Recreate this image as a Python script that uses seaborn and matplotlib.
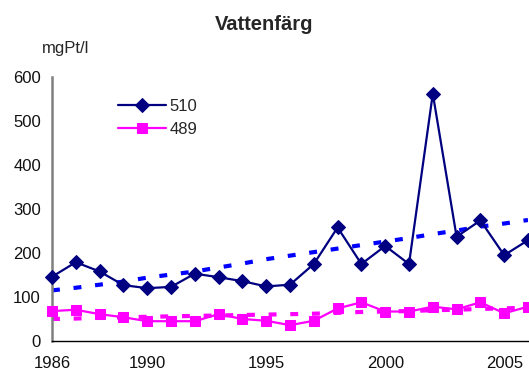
import matplotlib
matplotlib.use("Agg")
import matplotlib.pyplot as plt
import seaborn as sns
import pandas as pd

years = list(range(1986, 2007))
s510 = [146, 179, 158, 127, 120, 123, 153, 145, 136, 124, 128, 175, 258, 175, 216, 175, 562, 237, 274, 195, 229]
s489 = [68, 71, 61, 54, 45, 45, 45, 61, 50, 46, 36, 46, 74, 88, 67, 67, 78, 72, 88, 63, 78]
trend510 = [115, 121, 128, 135, 144, 151, 158, 167, 176, 186, 194, 202, 210, 218, 226, 234, 243, 251, 260, 267, 275]
trend489 = [50, 51, 53, 54, 55, 56, 57, 58, 59, 60, 61, 62, 64, 66, 67, 68, 70, 71, 73, 74, 76]
xtick_labels = ["1986", "1990", "1995", "2000", "2005"]
ytick_vals = [0, 100, 200, 300, 400, 500, 600]

df = pd.DataFrame({"year": years, "s510": s510, "s489": s489,
                   "t510": trend510, "t489": trend489})

sns.set_style("white")
plt.rcParams["font.family"] = ["Liberation Sans", "DejaVu Sans"]

W, H = 529, 371
fig = plt.figure(figsize=(W / 100, H / 100), dpi=100)
ax = fig.add_axes([52 / W, 30 / H, (528 - 52) / W, (341 - 77) / H])

dash = (0, (1.9, 3.3))
sns.lineplot(data=df, x="year", y="t510", ax=ax, color="#0000FF", lw=3,
             linestyle=dash, legend=False, zorder=2)
sns.lineplot(data=df, x="year", y="t489", ax=ax, color="#FF00FF", lw=3,
             linestyle=dash, legend=False, zorder=2)
sns.lineplot(data=df, x="year", y="s510", ax=ax, color="#000080", lw=1.6,
             marker="D", markersize=6.9, markeredgecolor="#000080", label="510", clip_on=False, zorder=3)
sns.lineplot(data=df, x="year", y="s489", ax=ax, color="#FF00FF", lw=1.6,
             marker="s", markersize=6.6, markeredgecolor="#FF00FF", label="489", clip_on=False, zorder=3)

ax.set_xlim(1986, 2006)
ax.set_ylim(0, 600)
ax.set_xticks(years)
ax.set_xticklabels([y if y in xtick_labels else "" for y in map(str, years)])
ax.set_yticks(ytick_vals)
ax.set_yticklabels([str(v) for v in ytick_vals])
ax.tick_params(axis="both", direction="out", length=5, width=1, color="black",
               labelsize=12, labelcolor="#111111")
ax.tick_params(axis="x", pad=6)
ax.tick_params(axis="y", pad=3)
ax.set_xlabel("")
ax.set_ylabel("")
for s in ["top", "right"]:
    ax.spines[s].set_visible(False)
ax.spines["left"].set_color("#808080")
ax.spines["left"].set_linewidth(1.8)
ax.spines["bottom"].set_color("black")
ax.spines["bottom"].set_linewidth(1)

handles, labels = ax.get_legend_handles_labels()
leg = ax.legend(handles, labels, loc="upper left", bbox_to_anchor=(118 / W, 1 - 99 / H),
                bbox_transform=fig.transFigure, frameon=False, fontsize=12,
                handlelength=2.9, handletextpad=0.2, labelspacing=0.45,
                borderaxespad=0, borderpad=0)

fig.text(0.5, 1 - 24 / H, "Vattenfärg", ha="center", va="center",
         fontsize=14.5, fontweight="bold")
fig.text(42 / W, 1 - 48 / H, "mgPt/l", ha="left", va="center", fontsize=12)

fig.savefig("out.png", dpi=100)
